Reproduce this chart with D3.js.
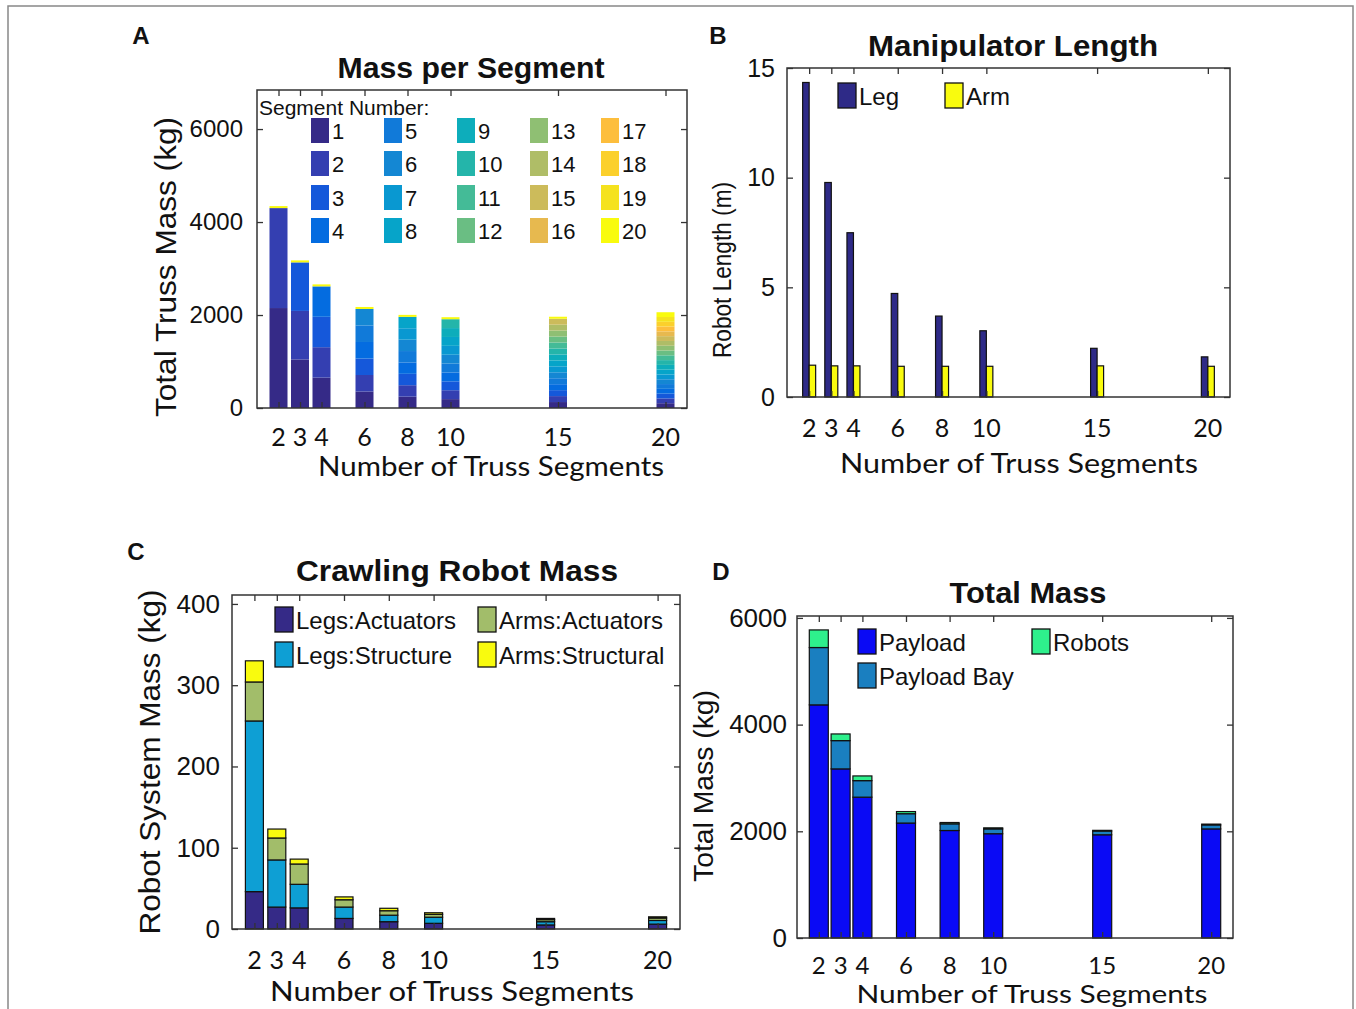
<!DOCTYPE html>
<html>
<head>
<meta charset="utf-8">
<script src="https://cdn.jsdelivr.net/npm/d3@7"></script>
<style>
body { margin: 0; background: #fff; }
text { font-family: "Liberation Sans", Arial, sans-serif; fill: #111; }
.cal { font-family: Lato, "Open Sans", sans-serif; }
</style>
</head>
<body>
<svg id="fig"></svg>
<script>
// shared x categories
var segments = [2, 3, 4, 6, 8, 10, 15, 20];
var xTicks = [2, 3, 4, 6, 8, 10, 15, 20];

// A: mass per segment (kg), stacked once per segment
var massPerSegment = [2150, 1044, 654, 355, 245, 191, 128, 103];
var segmentNumbers = [1, 2, 3, 4, 5, 6, 7, 8, 9, 10, 11, 12, 13, 14, 15, 16, 17, 18, 19, 20];
var parula20 = ["#352a87", "#343fb1", "#1558da", "#046ce0", "#117ad9", "#1487d3", "#0998d1", "#06a4c9", "#0dadbb", "#24b5aa",
                "#44bb97", "#6abe83", "#8fbf73", "#afbd67", "#ccbb5b", "#e7b94f", "#fdbe3d", "#fbd02c", "#f5e21e", "#f9fb0e"];
var ticksA = [0, 2000, 4000, 6000];

// B: manipulator length (m)
var legLength = [14.34, 9.78, 7.49, 4.72, 3.69, 3.02, 2.22, 1.83];
var armLength = [1.45, 1.42, 1.42, 1.40, 1.40, 1.40, 1.42, 1.40];
var ticksB = [0, 5, 10, 15];

// C: crawling robot mass (kg)
var legsActuators = [46, 27, 26, 13, 9, 7, 5, 6];
var legsStructure = [210, 58, 29, 14, 8, 7.5, 4, 4.5];
var armsActuators = [48, 27, 25, 9, 5.5, 3.5, 2.5, 3];
var armsStructural = [26, 11, 6, 3.5, 3, 2, 1.5, 1.5];
var ticksC = [0, 100, 200, 300, 400];

// D: total mass (kg)
var payload = [4370, 3170, 2640, 2155, 2015, 1955, 1935, 2045];
var payloadBay = [1075, 530, 310, 175, 125, 90, 70, 75];
var robots = [330, 125, 88, 40, 25, 20, 13, 15];
var ticksD = [0, 2000, 4000, 6000];

var svg = d3.select("#fig").attr("width", 1356).attr("height", 1009);
svg.append("rect").attr("width", 1356).attr("height", 1009).attr("fill", "#fff");
svg.append("rect").attr("x", 8).attr("y", 6).attr("width", 1345).attr("height", 1100)
   .attr("fill", "none").attr("stroke", "#888").attr("stroke-width", 1.5);

// axes box with inward ticks on all sides
var frame = function(x, y, yTicks, opt)
{
  var g = svg.append("g");
  var x0 = x.range()[0], x1 = x.range()[1], y0 = y.range()[0], y1 = y.range()[1];
  g.append("g").attr("transform", "translate(0," + y0 + ")")
   .call(d3.axisBottom(x).tickValues(xTicks).tickSizeInner(-6).tickSizeOuter(0).tickFormat(""));
  g.append("g").attr("transform", "translate(0," + y1 + ")")
   .call(d3.axisTop(x).tickValues(xTicks).tickSizeInner(-6).tickSizeOuter(0).tickFormat(""));
  g.append("g").attr("transform", "translate(" + x0 + ",0)")
   .call(d3.axisLeft(y).tickValues(yTicks).tickSizeInner(-6).tickSizeOuter(0)
           .tickPadding(opt.yPad).tickFormat(d3.format("d")))
   .selectAll("text").style("font-size", opt.yFont + "px");
  g.append("g").attr("transform", "translate(" + x1 + ",0)")
   .call(d3.axisRight(y).tickValues(yTicks).tickSizeInner(-6).tickSizeOuter(0).tickFormat(""));
  g.selectAll(".domain").remove();
  g.selectAll(".tick line").attr("stroke", "#333").attr("stroke-width", 1.3);
  g.append("rect").attr("x", x0).attr("y", y1).attr("width", x1 - x0).attr("height", y0 - y1)
   .attr("fill", "none").attr("stroke", "#333").attr("stroke-width", 1.5);

  // x tick labels
  g.selectAll("text.xl").data(xTicks).enter().append("text")
   .attr("class", "cal").attr("x", function(d){return x(d);}).attr("y", y0 + opt.xLabOff)
   .attr("text-anchor", "middle").attr("dominant-baseline", "central")
   .style("font-size", opt.xFont + "px").text(function(d){return d;});

  // x title
  g.append("text").attr("class", "cal").attr("x", opt.xt[0]).attr("y", opt.xt[1])
   .attr("text-anchor", "middle").attr("dominant-baseline", "central")
   .attr("textLength", opt.xt[2]).attr("lengthAdjust", "spacingAndGlyphs")
   .style("font-size", opt.xt[3] + "px").text("Number of Truss Segments");

  // y title
  g.append("text").attr("transform", "translate(" + opt.yt[0] + "," + opt.yt[1] + ") rotate(-90)")
   .attr("text-anchor", "middle").attr("dominant-baseline", "central")
   .attr("textLength", opt.yt[2]).attr("lengthAdjust", "spacingAndGlyphs")
   .style("font-size", opt.yt[4] + "px").text(opt.yt[3]);

  // title
  g.append("text").attr("x", opt.title[0]).attr("y", opt.title[1])
   .attr("text-anchor", "middle").attr("dominant-baseline", "central")
   .attr("textLength", opt.title[2]).attr("lengthAdjust", "spacingAndGlyphs")
   .style("font-size", "29px").style("font-weight", "bold").text(opt.title[3]);

  // panel letter
  g.append("text").attr("x", opt.letter[0]).attr("y", opt.letter[1])
   .attr("text-anchor", "middle").attr("dominant-baseline", "central")
   .style("font-size", "24px").style("font-weight", "bold").text(opt.letter[2]);
  return g;
}

var legendItem = function(x, y, color, label, size, edge)
{
  svg.append("rect").attr("x", x).attr("y", y).attr("width", 18).attr("height", 25)
     .attr("fill", color).attr("stroke", edge ? "#111" : "none").attr("stroke-width", 1.3);
  svg.append("text").attr("x", x + 21).attr("y", y + 13).attr("dominant-baseline", "central")
     .style("font-size", size + "px").text(label);
}

// ---------- A ----------
var xA = d3.scaleLinear().domain([1, 21]).range([257, 687]);
var yA = d3.scaleLinear().domain([0, 6840]).range([408, 90]);
var gA = svg.append("g");
segments.forEach(function(n, i)
{
  var m = massPerSegment[i];
  var stack = segmentNumbers.slice(0, n);
  gA.selectAll("rect.s" + n).data(stack).enter().append("rect")
    .attr("x", xA(n) - 9).attr("width", 18)
    .attr("y", function(k){return yA(k * m);})
    .attr("height", function(k){return yA((k - 1) * m) - yA(k * m);})
    .attr("fill", function(k){return parula20[k - 1];});
  if (n < 20)
    gA.append("rect").attr("x", xA(n) - 9).attr("width", 18)
      .attr("y", yA(n * m) - 2).attr("height", 2).attr("fill", parula20[19]);
});
frame(xA, yA, ticksA, {yPad: 14, yFont: 24, xLabOff: 28, xFont: 25,
  xt: [491, 466, 346, 26], yt: [166, 267, 300, "Total Truss Mass (kg)", 29],
  title: [471, 68, 267, "Mass per Segment"], letter: [141, 35, "A"]});
svg.append("text").attr("x", 259).attr("y", 107).attr("dominant-baseline", "central")
   .style("font-size", "21px").text("Segment Number:");
var colX = [311, 384, 457, 530, 601], rowY = [118, 151, 185, 218];
segmentNumbers.forEach(function(k, i)
{
  legendItem(colX[Math.floor(i / 4)], rowY[i % 4], parula20[i], k, 22, false);
});

// ---------- B ----------
var xB = d3.scaleLinear().domain([1, 21]).range([787, 1230]);
var yB = d3.scaleLinear().domain([0, 15]).range([397, 68]);
var gB = svg.append("g");
gB.selectAll("rect.leg").data(legLength).enter().append("rect")
  .attr("x", function(d, i){return xB(segments[i]) - 6.5;}).attr("width", 6.5)
  .attr("y", function(d){return yB(d);}).attr("height", function(d){return yB(0) - yB(d);})
  .attr("fill", "#2e2a87").attr("stroke", "#111").attr("stroke-width", 1.2);
gB.selectAll("rect.arm").data(armLength).enter().append("rect")
  .attr("x", function(d, i){return xB(segments[i]);}).attr("width", 6.5)
  .attr("y", function(d){return yB(d);}).attr("height", function(d){return yB(0) - yB(d);})
  .attr("fill", "#f9fb0e").attr("stroke", "#111").attr("stroke-width", 1.2);
frame(xB, yB, ticksB, {yPad: 12, yFont: 25, xLabOff: 30, xFont: 25,
  xt: [1019, 463, 358, 26], yt: [722, 270, 176, "Robot Length (m)", 26],
  title: [1013, 46, 290, "Manipulator Length"], letter: [718, 35, "B"]});
legendItem(838, 83, "#2e2a87", "Leg", 24, true);
legendItem(945, 83, "#f9fb0e", "Arm", 24, true);

// ---------- C ----------
var xC = d3.scaleLinear().domain([1, 21]).range([232, 680]);
var yC = d3.scaleLinear().domain([0, 411]).range([929, 595]);
var keysC = ["la", "ls", "aa", "as"];
var colorsC = {la: "#352a87", ls: "#0e9fd4", aa: "#a2bd6a", as: "#f9fb0e"};
var rowsC = segments.map(function(s, i){
  return {s: s, la: legsActuators[i], ls: legsStructure[i], aa: armsActuators[i], as: armsStructural[i]};
});
var gC = svg.append("g");
d3.stack().keys(keysC)(rowsC).forEach(function(layer)
{
  gC.selectAll("rect." + layer.key).data(layer).enter().append("rect")
    .attr("x", function(d){return xC(d.data.s) - 9;}).attr("width", 18)
    .attr("y", function(d){return yC(d[1]);}).attr("height", function(d){return yC(d[0]) - yC(d[1]);})
    .attr("fill", colorsC[layer.key]).attr("stroke", "#111").attr("stroke-width", 1.2);
});
frame(xC, yC, ticksC, {yPad: 12, yFont: 26, xLabOff: 30, xFont: 25,
  xt: [452, 991, 364, 26], yt: [150, 762, 345, "Robot System Mass (kg)", 29],
  title: [457, 571, 322, "Crawling Robot Mass"], letter: [136, 551, "C"]});
legendItem(275, 607, colorsC.la, "Legs:Actuators", 24, true);
legendItem(478, 607, colorsC.aa, "Arms:Actuators", 24, true);
legendItem(275, 642, colorsC.ls, "Legs:Structure", 24, true);
legendItem(478, 642, colorsC.as, "Arms:Structural", 24, true);

// ---------- D ----------
var xD = d3.scaleLinear().domain([1, 21]).range([797, 1233]);
var yD = d3.scaleLinear().domain([0, 6036]).range([938, 616]);
var keysD = ["p", "b", "r"];
var colorsD = {p: "#0a0af5", b: "#1a7fc0", r: "#2ef08c"};
var rowsD = segments.map(function(s, i){
  return {s: s, p: payload[i], b: payloadBay[i], r: robots[i]};
});
var gD = svg.append("g");
d3.stack().keys(keysD)(rowsD).forEach(function(layer)
{
  gD.selectAll("rect." + layer.key).data(layer).enter().append("rect")
    .attr("x", function(d){return xD(d.data.s) - 9.5;}).attr("width", 19)
    .attr("y", function(d){return yD(d[1]);}).attr("height", function(d){return yD(d[0]) - yD(d[1]);})
    .attr("fill", colorsD[layer.key]).attr("stroke", "#111").attr("stroke-width", 1.2);
});
frame(xD, yD, ticksD, {yPad: 10, yFont: 26, xLabOff: 26, xFont: 24,
  xt: [1032, 993, 351, 25], yt: [703, 786, 192, "Total Mass (kg)", 28],
  title: [1028, 593, 157, "Total Mass"], letter: [721, 571, "D"]});
legendItem(858, 629, colorsD.p, "Payload", 24, true);
legendItem(1032, 629, colorsD.r, "Robots", 24, true);
legendItem(858, 663, colorsD.b, "Payload Bay", 24, true);
</script>
</body>
</html>
